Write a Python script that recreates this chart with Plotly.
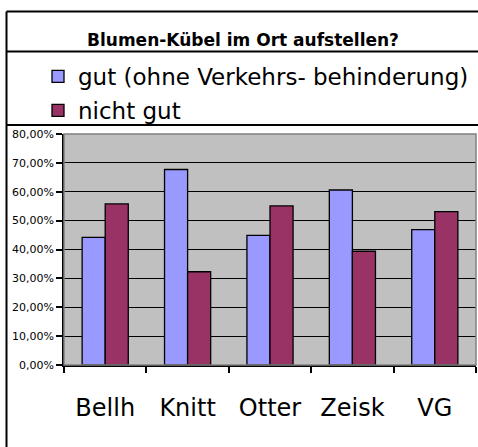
import plotly.graph_objects as go

categories = ["Bellh", "Knitt", "Otter", "Zeisk", "VG"]
gut = [0.442, 0.677, 0.449, 0.606, 0.469]
nicht_gut = [0.558, 0.323, 0.551, 0.394, 0.531]
series_names = ["gut (ohne Verkehrs- behinderung)", "nicht gut"]
title_text = "Blumen-Kübel im Ort aufstellen?"

W, H = 478, 447
L, R, T, B = 64, 476, 134, 365

def px(x):
    return (x - L) / (R - L)

def py(y):
    return (B - y) / (B - T)

fig = go.Figure()
fig.add_trace(go.Bar(x=categories, y=gut, name=series_names[0], legendgroup="a",
                     marker=dict(color="#9999FF", line=dict(color="black", width=1.3))))
fig.add_trace(go.Bar(x=categories, y=nicht_gut, name=series_names[1], legendgroup="b",
                     marker=dict(color="#993366", line=dict(color="black", width=1.3))))

font = "DejaVu Sans"
shapes = [
    dict(type="rect", xref="paper", yref="paper", x0=0, x1=1, y0=0, y1=1,
         line=dict(color="#808080", width=1.5), layer="above"),
    dict(type="line", xref="paper", yref="paper", x0=px(6.5), x1=px(490), y0=py(11.5), y1=py(11.5),
         line=dict(color="black", width=2)),
    dict(type="line", xref="paper", yref="paper", x0=px(6.5), x1=px(6.5), y0=py(11.5), y1=py(460),
         line=dict(color="black", width=2)),
    dict(type="line", xref="paper", yref="paper", x0=px(6.5), x1=px(490), y0=py(51.5), y1=py(51.5),
         line=dict(color="black", width=2)),
    dict(type="line", xref="paper", yref="paper", x0=px(6.5), x1=px(490), y0=py(125), y1=py(125),
         line=dict(color="black", width=2)),
]

fig.update_layout(
    template="none",
    width=W, height=H,
    margin=dict(l=L, r=W - R, t=T, b=H - B, pad=0, autoexpand=False),
    paper_bgcolor="white",
    plot_bgcolor="#C0C0C0",
    separators=",.",
    barmode="group", bargap=0.44, bargroupgap=0,
    title=dict(text="<b>" + title_text + "</b>", x=243 / W, xanchor="center",
               y=1 - 40 / H, yanchor="middle", yref="container",
               font=dict(family=font, size=17, color="black")),
    legend=dict(xref="container", yref="container", x=38 / W, xanchor="left",
                y=1 - 55 / H, yanchor="top", traceorder="grouped", tracegroupgap=1,
                font=dict(family=font, size=23, color="black"),
                bgcolor="rgba(0,0,0,0)", itemwidth=30),
    showlegend=True,
    shapes=shapes,
    xaxis=dict(showgrid=False, showline=True, linecolor="black", linewidth=1.5,
               automargin=False,
               ticks="outside", tickson="boundaries", ticklen=6, tickcolor="black",
               tickwidth=1.5, tickfont=dict(family=font, size=24, color="black"),
               ticklabelstandoff=20),
    yaxis=dict(range=[0, 0.8], dtick=0.1, tickformat=".2%", showgrid=True,
               automargin=False,
               gridcolor="black", gridwidth=1.3, showline=True, linecolor="black",
               linewidth=1.5, ticks="outside", ticklen=6, tickcolor="black", tickwidth=1.5,
               tickfont=dict(family=font, size=11, color="black"), zeroline=False),
)

fig.write_html("out.html", config={"displayModeBar": False},
               post_script="document.body.style.margin='0px';")
